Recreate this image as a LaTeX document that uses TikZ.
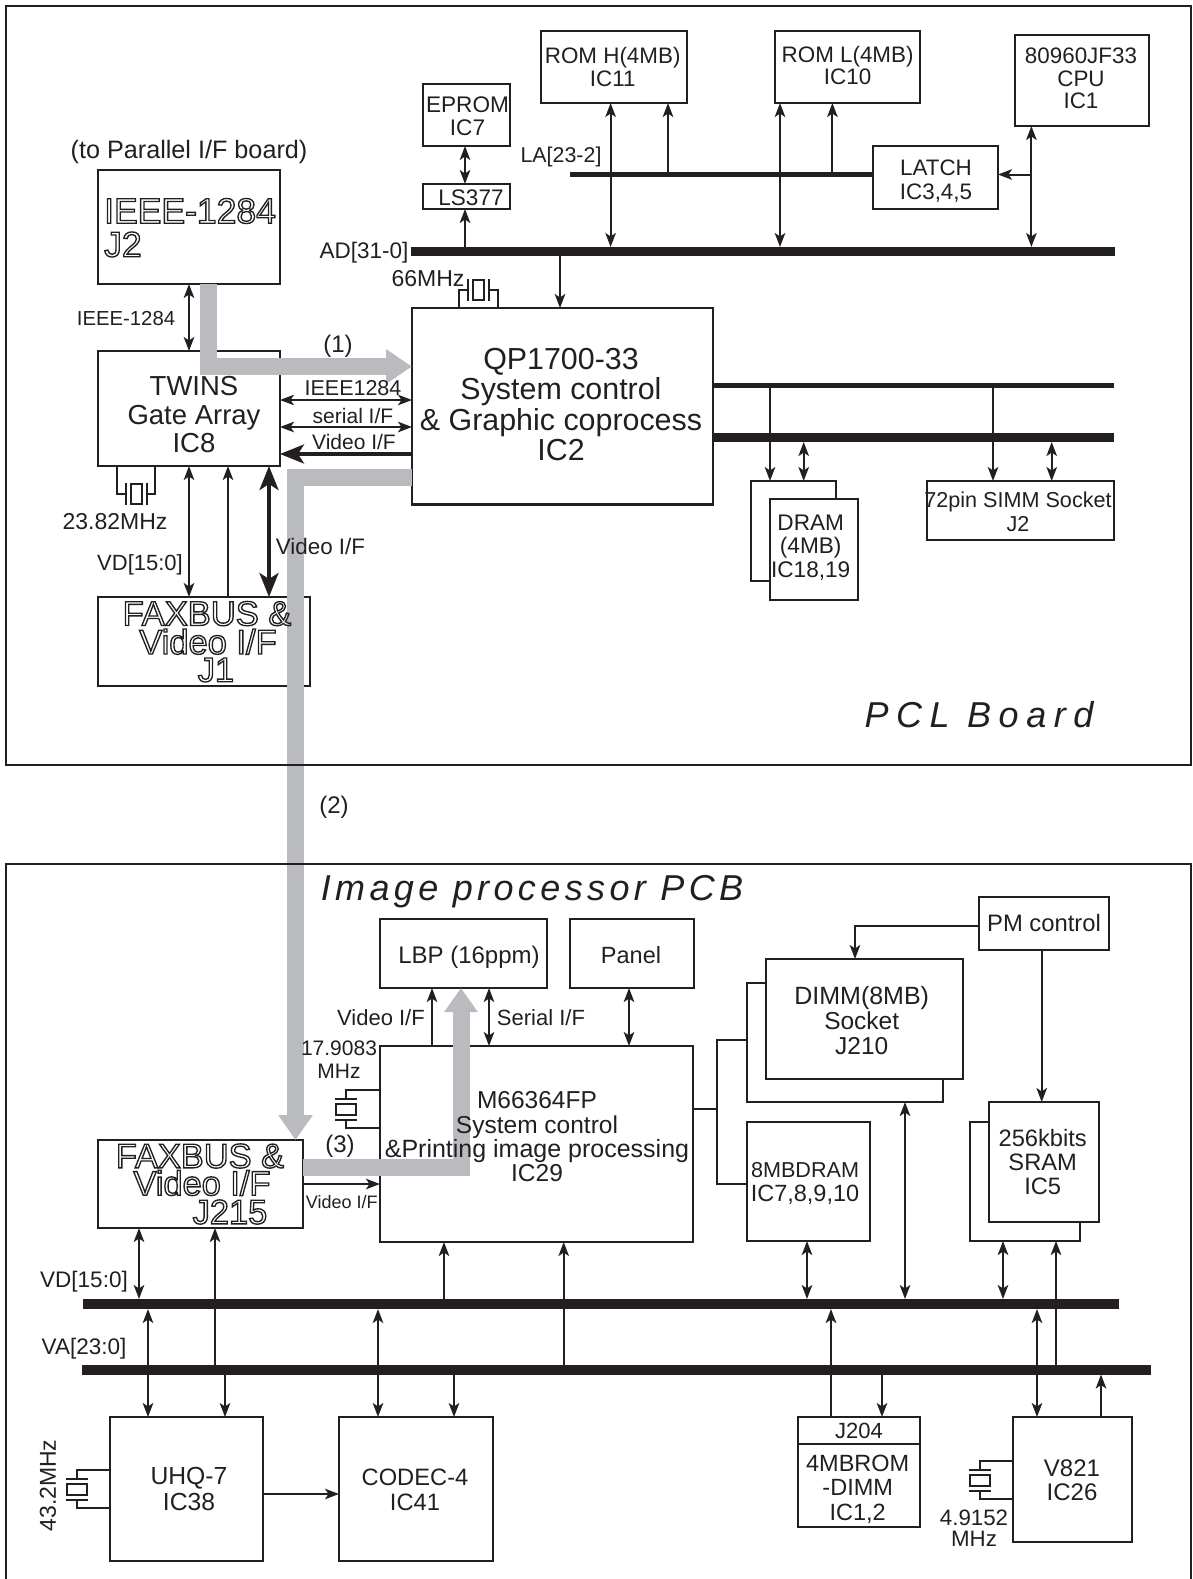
\documentclass[tikz,border=0pt]{standalone}
\usepackage{fontspec}
\setmainfont{Liberation Sans}
\usetikzlibrary{arrows.meta}
\definecolor{ink}{HTML}{231F20}
\definecolor{flowgray}{HTML}{B9BBBE}
\newcommand{\outl}[1]{\special{pdf:code q 1 Tr 1.35 w 0.137 0.122 0.125 RG}#1\special{pdf:code Q}}

\begin{document}
\begin{tikzpicture}[
        x=1pt,y=-1pt,
        >={Stealth[length=14pt,width=10.5pt,inset=3.5pt]},
        bigtip/.style={>={Stealth[length=24pt,width=19pt,inset=6pt]}},
        sz/.style 2 args={minimum width=#1pt,minimum height=#2pt},
        chip/.style={draw=ink,line width=2.2pt,inner sep=0pt,outer sep=0pt},
        stack/.style={chip,fill=white},
        board/.style={draw=ink,line width=2.2pt,inner sep=0pt,outer sep=0pt},
        bus/.style={fill=ink,inner sep=0pt,outer sep=0pt},
        txt/.style 2 args={align=center,inner sep=0pt,text=ink,font=\fontsize{#1}{#2}\selectfont},
        wire/.style={draw=ink,line width=2pt},
        fatwire/.style={draw=ink,line width=3.6pt,bigtip},
        flow/.style={draw=flowgray,line width=17pt},
        pics/crystal/.style={code={
                \draw[wire] (-5.5,-10) rectangle (5.5,10);
                \draw[wire] (-10.5,-11) -- (-10.5,11);
                \draw[wire] (10.5,-11) -- (10.5,11);
                \coordinate (-a) at (-10.5,0);
                \coordinate (-b) at (10.5,0);
            }}
    ]
    \useasboundingbox (0,0) rectangle (1193,1579);

    % boxes
    \node[chip,sz={182}{114}] (j2) at (189,227) {};
    \node[chip,sz={182}{115}] (twins) at (189,408.5) {};
    \node[chip,sz={212}{89}] (j1) at (204,641.5) {};
    \node[chip,sz={301}{196.5}] (qp) at (562.5,406.25) {};
    \node[chip,sz={87}{62}] (eprom) at (466.5,115) {};
    \node[chip,sz={87}{25}] (lsbuf) at (466.5,196.5) {};
    \node[chip,sz={145.6}{72}] (romh) at (613.8,67) {};
    \node[chip,sz={145}{72}] (roml) at (847.5,67) {};
    \node[chip,sz={125}{63}] (latch) at (935.5,177.5) {};
    \node[chip,sz={134.3}{91}] (cpu) at (1081.85,80.5) {};
    \node[chip,sz={85}{100}] (dramback) at (793.5,531) {};
    \node[stack,sz={88}{101}] (dramfront) at (814,549.5) {};
    \node[chip,sz={187.3}{59}] (simm) at (1020.35,510.5) {};

    \node[chip,sz={167}{69}] (lbp) at (463.5,953.5) {};
    \node[chip,sz={124}{69}] (panel) at (632,953.5) {};
    \node[chip,sz={313}{196}] (main) at (536.5,1144) {};
    \node[chip,sz={205}{88}] (jfax) at (200.5,1184) {};
    \node[chip,sz={130}{53}] (pm) at (1044,923.5) {};
    \node[chip,sz={196}{119}] (dimmback) at (845,1042.5) {};
    \node[stack,sz={196.7}{120}] (dimmfront) at (864.35,1019) {};
    \node[chip,sz={123}{119}] (dramboard) at (808.5,1181.5) {};
    \node[chip,sz={110}{119}] (sramback) at (1025,1181.5) {};
    \node[stack,sz={110}{120}] (sramfront) at (1044,1162) {};
    \node[chip,sz={153}{144}] (uhq) at (186.5,1489) {};
    \node[chip,sz={154}{144}] (codec) at (416,1489) {};
    \node[chip,sz={122}{110}] (jrom) at (859,1472) {};
    \node[chip,line width=1.4pt,sz={122}{27},txt={22}{22}] (jromhead) at (859,1430.5) {\raisebox{-2pt}{J204}};
    \node[chip,sz={119}{125}] (vchip) at (1072.5,1479.5) {};

    % gray data paths
    \draw[flow,-{Triangle[length=26pt,width=33pt]}] (208.5,0 |- j2.south) |- (qp.west |- 0,366.5);
    \draw[flow,-{Triangle[length=25pt,width=33pt]}] (qp.west |- 0,477) -| (295.5,0 |- jfax.north);
    \draw[flow,-{Triangle[length=24pt,width=32pt]}] (jfax.east |- 0,1167) -| (461,0 |- lbp.south);

    % boards
    \node[board,sz={1185}{759}] (pcl) at (598.5,385.5) {};
    \node[board,sz={1185}{760}] (imgpcb) at (598.5,1244) {};

    % buses
    \node[bus,sz={704}{9}] (adbus) at (763,251.5) {};
    \node[bus,sz={303}{5}] (labus) at (721.5,174.5) {};
    \node[bus,sz={401}{5}] (qpthin) at (913.5,385) {};
    \node[bus,sz={401}{9}] (qpthick) at (913.5,437.5) {};
    \node[bus,sz={1036}{10}] (vdbus) at (601,1304) {};
    \node[bus,sz={1069}{10}] (vabus) at (616.5,1369.5) {};

    % upper board connectors
    \draw[wire,<->] (465,0 |- eprom.south) -- (465,0 |- lsbuf.north);
    \draw[wire,->] (465,0 |- adbus.north) -- (465,0 |- lsbuf.south);
    \draw[wire,<->] (610.6,0 |- romh.south) -- (610.6,0 |- adbus.north);
    \draw[wire,->] (668,0 |- labus.north) -- (668,0 |- romh.south);
    \draw[wire,<->] (780,0 |- roml.south) -- (780,0 |- adbus.north);
    \draw[wire,->] (832.4,0 |- labus.north) -- (832.4,0 |- roml.south);
    \draw[wire,<->] (1031.4,0 |- cpu.south) -- (1031.4,0 |- adbus.north);
    \draw[wire,->] (1031.4,0 |- labus) -- (latch.east |- labus);
    \draw[wire,->] (560,0 |- adbus.south) -- (560,0 |- qp.north);
    \draw[wire,<->] (189,0 |- j2.south) -- (189,0 |- twins.north);
    \draw[wire,<->] (twins.east |- 0,400) -- (qp.west |- 0,400);
    \draw[wire,<->] (twins.east |- 0,427) -- (qp.west |- 0,427);
    \draw[fatwire,->] (qp.west |- 0,454) -- (twins.east |- 0,454);
    \draw[wire,<->] (189,0 |- twins.south) -- (189,0 |- j1.north);
    \draw[wire,->] (228,0 |- j1.north) -- (228,0 |- twins.south);
    \draw[fatwire,<->] (269,0 |- twins.south) -- (269,0 |- j1.north);
    \draw[wire,->] (770,0 |- qpthin.south) -- (770,0 |- dramback.north);
    \draw[wire,<->] (803.7,0 |- qpthick.south) -- (803.7,0 |- dramback.north);
    \draw[wire,->] (993,0 |- qpthin.south) -- (993,0 |- simm.north);
    \draw[wire,<->] (1051.7,0 |- qpthick.south) -- (1051.7,0 |- simm.north);

    % crystals
    \pic (xqp) at (478.5,290) {crystal};
    \pic (xtw) at (136,494) {crystal};
    \pic[rotate=90] (xmain) at (345.7,1109) {crystal};
    \pic[rotate=90] (xuhq) at (76.7,1489) {crystal};
    \pic[rotate=90] (xv) at (979.5,1480) {crystal};
    \draw[wire] (459,0 |- qp.north) |- (xqp-a);
    \draw[wire] (498,0 |- qp.north) |- (xqp-b);
    \draw[wire] (117,0 |- twins.south) |- (xtw-a);
    \draw[wire] (155,0 |- twins.south) |- (xtw-b);
    \draw[wire] (main.west |- 0,1090) -| (xmain-b);
    \draw[wire] (main.west |- 0,1128) -| (xmain-a);
    \draw[wire] (uhq.west |- 0,1470) -| (xuhq-b);
    \draw[wire] (uhq.west |- 0,1508) -| (xuhq-a);
    \draw[wire] (vchip.west |- 0,1461) -| (xv-b);
    \draw[wire] (vchip.west |- 0,1499) -| (xv-a);

    % lower board connectors
    \draw[wire,->] (432,0 |- main.north) -- (432,0 |- lbp.south);
    \draw[wire,<->] (489,0 |- lbp.south) -- (489,0 |- main.north);
    \draw[wire,<->] (629,0 |- panel.south) -- (629,0 |- main.north);
    \draw[wire,->] (jfax.east |- 0,1184) -- (main.west |- 0,1184);
    \draw[wire,->] (pm.west |- 0,925.7) -| (855,0 |- dimmfront.north);
    \draw[wire,->] (1041.7,0 |- pm.south) -- (1041.7,0 |- sramfront.north);
    \draw[wire] (main.east |- 0,1109) -- (717,1109);
    \draw[wire] (dimmback.west |- 0,1040) -- (717,1040) -- (717,1184) -- (dramboard.west |- 0,1184);
    \draw[wire,<->] (139,0 |- jfax.south) -- (139,0 |- vdbus.north);
    \draw[wire,->] (215,0 |- vabus.north) -- (215,0 |- jfax.south);
    \draw[wire,->] (444,0 |- vdbus.north) -- (444,0 |- main.south);
    \draw[wire,->] (563.7,0 |- vabus.north) -- (563.7,0 |- main.south);
    \draw[wire,<->] (807,0 |- dramboard.south) -- (807,0 |- vdbus.north);
    \draw[wire,<->] (905,0 |- dimmback.south) -- (905,0 |- vdbus.north);
    \draw[wire,<->] (1003,0 |- sramback.south) -- (1003,0 |- vdbus.north);
    \draw[wire,->] (1056,0 |- vabus.north) -- (1056,0 |- sramback.south);
    \draw[wire,<->] (148,0 |- vdbus.south) -- (148,0 |- uhq.north);
    \draw[wire,->] (225,0 |- vabus.south) -- (225,0 |- uhq.north);
    \draw[wire,<->] (378,0 |- vdbus.south) -- (378,0 |- codec.north);
    \draw[wire,->] (454,0 |- vabus.south) -- (454,0 |- codec.north);
    \draw[wire,->] (uhq.east |- 0,1494) -- (codec.west |- 0,1494);
    \draw[wire,->] (831,0 |- jrom.north) -- (831,0 |- vdbus.south);
    \draw[wire,->] (882,0 |- vabus.south) -- (882,0 |- jrom.north);
    \draw[wire,<->] (1037,0 |- vdbus.south) -- (1037,0 |- vchip.north);
    \draw[wire,->] (1101,0 |- vchip.north) -- (1101,0 |- vabus.south);

    % texts, upper board
    \node[txt={25.2}{24}] (tparallel) at (189,152) {(to Parallel I/F board)};
    \node[txt={35.5}{35},anchor=west] (tj2a) at (104,211) {\outl{IEEE-1284}};
    \node[txt={35.5}{35},anchor=west] (tj2b) at (104,244.5) {\outl{J2}};
    \node[txt={20.3}{20}] (tieee) at (126,319) {IEEE-1284};
    \node[txt={27.5}{28.5}] (ttwins) at (194,415) {TWINS\\Gate Array\\IC8};
    \node[txt={34.5}{34.5}] (tj1a) at (207,613.6) {\outl{FAXBUS \&}};
    \node[txt={34.5}{34.5}] (tj1b) at (208,641.7) {\outl{Video I/F}};
    \node[txt={34.5}{34.5}] (tj1c) at (216,670) {\outl{J1}};
    \node[txt={24}{24}] (tone) at (338,346) {(1)};
    \node[txt={21.5}{21}] (tif1) at (353,388) {IEEE1284};
    \node[txt={21}{21}] (tif2) at (353,415.5) {serial I/F};
    \node[txt={21}{21}] (tif3) at (354,441.6) {Video I/F};
    \node[txt={23}{23}] (tosc1) at (115,521.6) {23.82MHz};
    \node[txt={22.4}{22}] (tvid) at (320.5,546) {Video I/F};
    \node[txt={22}{21}] (tvd1) at (140,565) {VD[15:0]};
    \node[txt={22.5}{22}] (tad) at (364,253) {AD[31-0]};
    \node[txt={23}{23}] (tosc2) at (428,279) {66MHz};
    \node[txt={21.4}{21}] (tla) at (561,157) {LA[23-2]};
    \node[txt={22.6}{23}] (teprom) at (467.5,116.5) {EPROM\\IC7};
    \node[txt={22.5}{22}] (tls) at (471,198) {LS377};
    \node[txt={22.4}{23}] (tromh) at (612.7,66.5) {ROM H(4MB)\\IC11};
    \node[txt={22.4}{21.5}] (troml) at (847.6,65.5) {ROM L(4MB)\\IC10};
    \node[txt={22.4}{24}] (tlatch) at (936,181) {LATCH\\IC3,4,5};
    \node[txt={22.4}{22.5}] (tcpu) at (1081,78.5) {80960JF33\\CPU\\IC1};
    \node[txt={30.4}{30.5}] (tqp) at (561,404.5) {QP1700-33\\System control\\\& Graphic coprocess\\IC2};
    \node[txt={22.6}{23.5}] (tdram) at (810.7,547.5) {DRAM\\(4MB)\\IC18,19};
    \node[txt={21.6}{23.5}] (tsimm) at (1018,512) {72pin SIMM Socket\\J2};
    \node[txt={36}{36},font=\fontsize{36}{36}\selectfont\itshape\addfontfeature{LetterSpace=21}] (tpcl) at (979,715) {PCL Board};
    \node[txt={24}{24}] (ttwo) at (334,807) {(2)};

    % texts, lower board
    \node[txt={36}{36},font=\fontsize{36}{36}\selectfont\itshape\addfontfeature{LetterSpace=12.2}] (timg) at (532,892) {Image processor PCB};
    \node[txt={24}{22}] (tlbp) at (469,957) {LBP (16ppm)};
    \node[txt={23.5}{22}] (tpanel) at (631,955) {Panel};
    \node[txt={22}{22}] (tvid2) at (381,1018) {Video I/F};
    \node[txt={22}{22}] (tser) at (541,1018) {Serial I/F};
    \node[txt={21}{23}] (tosc3) at (339,1059.5) {17.9083\\MHz};
    \node[txt={24.5}{24.3}] (tmain) at (537,1137) {M66364FP\\System control\\{\fontsize{25}{24.3}\selectfont\&Printing image processing}\\IC29};
    \node[txt={24}{24}] (tthree) at (340,1146) {(3)};
    \node[txt={18}{18}] (tvid3) at (341.7,1202) {Video I/F};
    \node[txt={34.4}{34.4}] (tfaxa) at (200,1156) {\outl{FAXBUS \&}};
    \node[txt={34.4}{34.4}] (tfaxb) at (202,1183) {\outl{Video I/F}};
    \node[txt={34.4}{34.4}] (tfaxc) at (230,1212) {\outl{J215}};
    \node[txt={22.5}{21}] (tvd2) at (84,1282) {VD[15:0]};
    \node[txt={22.5}{21}] (tva) at (84,1349) {VA[23:0]};
    \node[txt={23.8}{23.8}] (tpm) at (1044,923) {PM control};
    \node[txt={24.5}{25}] (tdimm) at (861.7,1021) {{\fontsize{25}{25}\selectfont DIMM(8MB)}\\Socket\\J210};
    \node[txt={22.5}{24}] (tdram8) at (805,1183) {{\fontsize{21.6}{24}\selectfont 8MBDRAM}\\{\fontsize{23.5}{24}\selectfont IC7,8,9,10}};
    \node[txt={23.7}{24}] (tsram) at (1042.7,1162) {256kbits\\SRAM\\IC5};
    \node[txt={24.7}{25.5}] (tuhq) at (189,1489) {UHQ-7\\IC38};
    \node[txt={23.7}{24.5}] (tcodec) at (415,1490) {CODEC-4\\IC41};
    \node[txt={23}{23},rotate=90] (tosc4) at (48,1485.5) {43.2MHz};
    \node[txt={23.5}{24.5}] (trom) at (857.7,1489) {4MBROM\\-DIMM\\IC1,2};
    \node[txt={24}{24}] (tv) at (1072,1480) {V821\\IC26};
    \node[txt={22.3}{21}] (tosc5) at (974,1528.5) {4.9152\\MHz};
\end{tikzpicture}
\end{document}
